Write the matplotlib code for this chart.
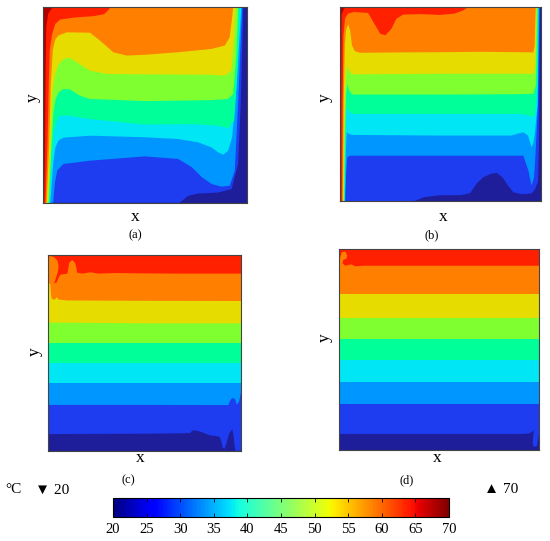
import matplotlib
matplotlib.use("Agg")
import matplotlib.pyplot as plt
from matplotlib.colors import Normalize
from matplotlib.cm import ScalarMappable

plt.rcParams["font.family"] = ["Liberation Serif", "DejaVu Sans"]

# temperature levels (deg C) and the colour of each band between them
levels = [20, 25, 30, 35, 40, 45, 50, 55, 60, 65, 70]
band_colors = ["#1e1e9b", "#1e3cf0", "#0096ff", "#00e6f5", "#00ff99",
               "#80ff30", "#e6dc00", "#ff8000", "#ff2000", "#b40000"]
cbar_ticks = [20, 25, 30, 35, 40, 45, 50, 55, 60, 65, 70]

# isotherm paths (x, y in cavity units)
iso_a = {
    25: [(0.67, 0), (0.711, 0.035), (0.76, 0.047), (0.858, 0.052), (0.924, 0.07),
         (0.956, 0.198), (0.969, 0.505), (0.982, 1.0)],
    30: [(0.05, 0), (0.058, 0.1), (0.07, 0.165), (0.1, 0.198), (0.23, 0.215),
         (0.499, 0.237), (0.662, 0.224), (0.73, 0.181), (0.779, 0.13), (0.826, 0.096),
         (0.875, 0.082), (0.915, 0.087), (0.94, 0.164), (0.956, 0.505), (0.976, 1.0)],
    35: [(0.036, 0), (0.05, 0.2), (0.06, 0.28), (0.075, 0.317), (0.1, 0.333),
         (0.23, 0.343), (0.499, 0.335), (0.662, 0.326), (0.76, 0.309), (0.826, 0.283),
         (0.858, 0.258), (0.883, 0.246), (0.907, 0.266), (0.927, 0.335), (0.948, 0.591),
         (0.972, 1.0)],
    40: [(0.032, 0), (0.046, 0.25), (0.055, 0.37), (0.068, 0.42), (0.083, 0.446),
         (0.13, 0.445), (0.23, 0.428), (0.499, 0.4), (0.744, 0.402), (0.858, 0.394),
         (0.907, 0.382), (0.937, 0.42), (0.953, 0.676), (0.964, 1.0)],
    45: [(0.028, 0), (0.042, 0.3), (0.05, 0.45), (0.062, 0.53), (0.077, 0.565),
         (0.1, 0.582), (0.132, 0.58), (0.18, 0.548), (0.23, 0.531), (0.499, 0.52),
         (0.826, 0.525), (0.907, 0.531), (0.932, 0.556), (0.948, 0.76), (0.956, 1.0)],
    50: [(0.024, 0), (0.036, 0.3), (0.045, 0.55), (0.058, 0.65), (0.072, 0.7),
         (0.09, 0.725), (0.108, 0.738), (0.132, 0.741), (0.165, 0.719), (0.23, 0.676),
         (0.312, 0.659), (0.499, 0.657), (0.826, 0.655), (0.891, 0.65), (0.924, 0.676),
         (0.937, 0.847), (0.944, 1.0)],
    55: [(0.018, 0), (0.03, 0.3), (0.038, 0.6), (0.048, 0.78), (0.06, 0.835),
         (0.075, 0.855), (0.116, 0.872), (0.23, 0.87), (0.279, 0.83), (0.344, 0.77),
         (0.409, 0.753), (0.499, 0.757), (0.662, 0.77), (0.826, 0.787), (0.891, 0.804),
         (0.915, 0.847), (0.927, 0.949), (0.932, 1.0)],
    60: [(0.012, 0), (0.022, 0.3), (0.028, 0.6), (0.033, 0.78), (0.044, 0.86),
         (0.06, 0.915), (0.083, 0.937), (0.148, 0.947), (0.25, 0.955), (0.3, 0.965),
         (0.32, 0.985), (0.33, 1.0)],
    65: [(0.006, 0), (0.01, 0.3), (0.013, 0.7), (0.016, 0.9), (0.025, 0.966),
         (0.04, 0.99), (0.05, 1.0)],
}

iso_b = {
    25: [(0.37, 0), (0.42, 0.02), (0.5, 0.03), (0.6, 0.03), (0.647, 0.04), (0.68, 0.09),
         (0.713, 0.122), (0.75, 0.14), (0.78, 0.145), (0.81, 0.12), (0.83, 0.088),
         (0.862, 0.045), (0.9, 0.036), (0.93, 0.036), (0.953, 0.04), (0.97, 0.06),
         (0.985, 0.1), (0.99, 0.3), (0.995, 1.0)],
    30: [(0.026, 0), (0.031, 0.15), (0.036, 0.225), (0.05, 0.233), (0.5, 0.233),
         (0.83, 0.233), (0.912, 0.233), (0.937, 0.157), (0.953, 0.079), (0.965, 0.12),
         (0.97, 0.191), (0.985, 0.5), (0.992, 1.0)],
    35: [(0.024, 0), (0.029, 0.25), (0.034, 0.354), (0.045, 0.345), (0.06, 0.34),
         (0.5, 0.337), (0.85, 0.337), (0.912, 0.354), (0.935, 0.337), (0.953, 0.277),
         (0.962, 0.3), (0.97, 0.354), (0.983, 0.5), (0.988, 1.0)],
    40: [(0.022, 0), (0.027, 0.3), (0.032, 0.46), (0.036, 0.482), (0.045, 0.46),
         (0.06, 0.448), (0.5, 0.448), (0.9, 0.448), (0.94, 0.44), (0.953, 0.431),
         (0.97, 0.45), (0.982, 0.6), (0.985, 1.0)],
    45: [(0.02, 0), (0.025, 0.35), (0.03, 0.55), (0.036, 0.603), (0.045, 0.57),
         (0.06, 0.548), (0.5, 0.548), (0.9, 0.55), (0.962, 0.552), (0.975, 0.6),
         (0.981, 0.95), (0.982, 1.0)],
    50: [(0.017, 0), (0.022, 0.4), (0.028, 0.62), (0.036, 0.7), (0.045, 0.67),
         (0.06, 0.652), (0.5, 0.655), (0.9, 0.655), (0.965, 0.655), (0.972, 0.7),
         (0.977, 0.95), (0.978, 1.0)],
    55: [(0.014, 0), (0.018, 0.5), (0.024, 0.8), (0.03, 0.88), (0.04, 0.91),
         (0.05, 0.88), (0.06, 0.8), (0.075, 0.77), (0.1, 0.763), (0.3, 0.765),
         (0.5, 0.766), (0.7, 0.768), (0.9, 0.766), (0.962, 0.765), (0.968, 0.8),
         (0.972, 0.95), (0.974, 1.0)],
    60: [(0.01, 0), (0.013, 0.5), (0.017, 0.85), (0.025, 0.94), (0.04, 0.965),
         (0.07, 0.973), (0.14, 0.968), (0.17, 0.914), (0.2, 0.861), (0.226, 0.853),
         (0.256, 0.887), (0.28, 0.938), (0.315, 0.96), (0.4, 0.962), (0.5, 0.958),
         (0.57, 0.965), (0.61, 0.98), (0.64, 1.0)],
    65: [(0.004, 0), (0.006, 0.6), (0.008, 0.96), (0.02, 0.99), (0.03, 1.0)],
}

iso_c = {
    25: [(0, 0.085), (0.5, 0.087), (0.7, 0.089), (0.736, 0.09), (0.75, 0.105),
         (0.78, 0.1), (0.81, 0.09), (0.84, 0.078), (0.87, 0.075), (0.89, 0.07),
         (0.9, 0.04), (0.905, 0.015), (0.915, 0.01), (0.925, 0.04), (0.94, 0.09),
         (0.955, 0.11), (0.962, 0.07), (0.966, 0.03), (0.972, 0.0), (1.0, 0.0)],
    30: [(0, 0.234), (0.5, 0.234), (0.935, 0.233), (0.943, 0.255), (0.955, 0.27),
         (0.97, 0.262), (0.978, 0.235), (0.99, 0.25), (1.0, 0.3)],
    35: [(0, 0.348), (0.5, 0.348), (1.0, 0.348)],
    40: [(0, 0.447), (0.5, 0.447), (1.0, 0.447)],
    45: [(0, 0.549), (0.5, 0.549), (1.0, 0.549)],
    50: [(0, 0.66), (0.008, 0.655), (0.5, 0.651), (1.0, 0.651)],
    55: [(0, 0.86), (0.012, 0.85), (0.015, 0.8), (0.02, 0.775), (0.035, 0.772),
         (0.045, 0.785), (0.055, 0.772), (0.1, 0.768), (0.5, 0.766), (1.0, 0.765)],
    60: [(0, 0.99), (0.01, 0.995), (0.03, 0.99), (0.05, 0.97), (0.055, 0.94),
         (0.05, 0.91), (0.04, 0.88), (0.032, 0.855), (0.045, 0.86), (0.055, 0.885),
         (0.065, 0.9), (0.1, 0.905), (0.105, 0.93), (0.11, 0.96), (0.125, 0.975),
         (0.14, 0.96), (0.148, 0.93), (0.15, 0.91), (0.18, 0.905), (0.22, 0.912),
         (0.26, 0.905), (0.35, 0.908), (0.5, 0.906), (0.7, 0.905), (1.0, 0.905)],
}

iso_d = {
    25: [(0, 0.08), (0.9, 0.08), (0.95, 0.082), (0.965, 0.09), (0.975, 0.1),
         (0.97, 0.06), (0.968, 0.03), (0.975, 0.015), (0.99, 0.02), (0.995, 0.05),
         (1.0, 0.08)],
    30: [(0, 0.227), (0.5, 0.227), (1.0, 0.227)],
    35: [(0, 0.34), (0.5, 0.34), (1.0, 0.34)],
    40: [(0, 0.448), (0.5, 0.448), (1.0, 0.448)],
    45: [(0, 0.553), (0.5, 0.553), (1.0, 0.553)],
    50: [(0, 0.659), (0.5, 0.659), (1.0, 0.659)],
    55: [(0, 0.777), (0.5, 0.777), (1.0, 0.777)],
    60: [(0, 0.93), (0.005, 0.96), (0.012, 0.985), (0.03, 0.988), (0.04, 0.97),
         (0.035, 0.952), (0.02, 0.948), (0.016, 0.93), (0.03, 0.918), (0.06, 0.925),
         (0.08, 0.915), (0.12, 0.918), (0.3, 0.918), (0.6, 0.918), (1.0, 0.918)],
}


def draw_field(ax, isotherms):
    """Stack the temperature bands: each isotherm bounds the warmer region above it."""
    ax.fill([0, 1, 1, 0], [0, 0, 1, 1], color=band_colors[0], lw=0)
    for i, level in enumerate(levels[1:-1]):
        if level not in isotherms:
            continue
        pts = isotherms[level] + [(1, 1), (0, 1), (0, 0)]
        xs, ys = zip(*pts)
        ax.fill(xs, ys, color=band_colors[i + 1], lw=0)
    ax.set_xlim(0, 1)
    ax.set_ylim(0, 1)
    ax.set_xticks([])
    ax.set_yticks([])
    for sp in ax.spines.values():
        sp.set_color("#444444")
        sp.set_linewidth(0.8)


def main():
    fig = plt.figure(figsize=(5.5, 5.41), dpi=100)

    boxes = [[0.0782, 0.6253, 0.3710, 0.3612],
             [0.6182, 0.6285, 0.3655, 0.3590],
             [0.0873, 0.1669, 0.3509, 0.3617],
             [0.6169, 0.1682, 0.3631, 0.3710]]
    fields = [iso_a, iso_b, iso_c, iso_d]
    for box, field in zip(boxes, fields):
        ax = fig.add_axes(box)
        draw_field(ax, field)

    # axis names and panel letters
    lab = dict(ha="center", va="center", fontsize=12.5)
    fig.text(0.2455, 0.5989, "x", **lab)
    fig.text(0.0600, 0.8189, "y", rotation=90, **lab)
    fig.text(0.8055, 0.5989, "x", **lab)
    fig.text(0.5909, 0.8189, "y", rotation=90, **lab)
    fig.text(0.2545, 0.1534, "x", **lab)
    fig.text(0.0636, 0.3494, "y", rotation=90, **lab)
    fig.text(0.7945, 0.1534, "x", **lab)
    fig.text(0.5909, 0.3752, "y", rotation=90, **lab)

    sub = dict(ha="center", va="center", fontsize=9)
    fig.text(0.2455, 0.5656, "(a)", **sub)
    fig.text(0.7855, 0.5656, "(b)", **sub)
    fig.text(0.2327, 0.1128, "(c)", **sub)
    fig.text(0.7400, 0.1128, "(d)", **sub)

    # colour bar
    cax = fig.add_axes([0.2055, 0.0444, 0.6110, 0.0351])
    sm = ScalarMappable(norm=Normalize(levels[0], levels[-1]), cmap="jet")
    cb = fig.colorbar(sm, cax=cax, orientation="horizontal", ticks=cbar_ticks)
    cb.outline.set_linewidth(0.8)
    cax.tick_params(direction="in", length=3, width=0.6, top=True,
                    labelsize=10.5, pad=4)

    fig.text(0.0236, 0.0943, "°C", ha="center", va="center", fontsize=11)
    fig.text(0.0945, 0.0943, "▼ 20", ha="center", va="center", fontsize=11)
    fig.text(0.9110, 0.0943, "▲ 70", ha="center", va="center", fontsize=11)

    fig.savefig("out.png", dpi=100)


if __name__ == "__main__":
    main()
